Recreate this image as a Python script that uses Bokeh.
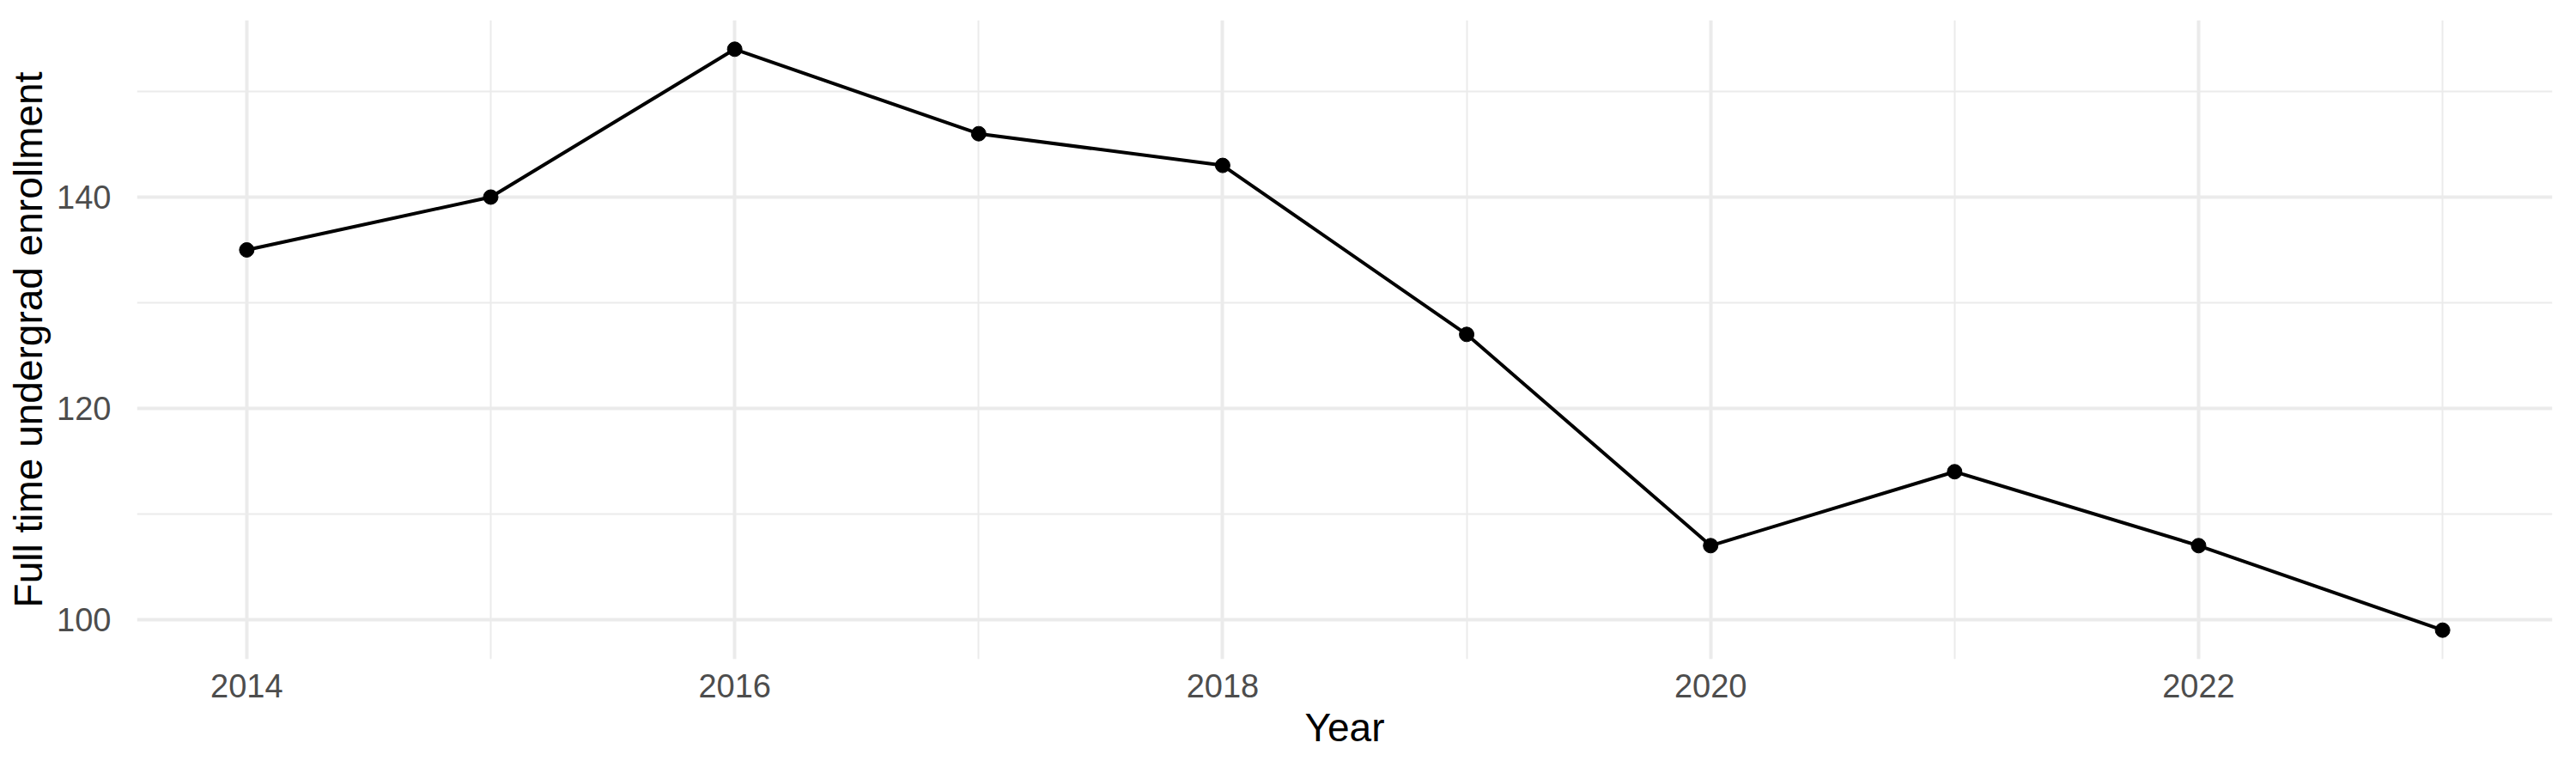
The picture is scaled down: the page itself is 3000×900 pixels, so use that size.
from bokeh.embed import file_html
from bokeh.models import FixedTicker, Range1d
from bokeh.plotting import figure
from bokeh.resources import INLINE

years = [2014, 2015, 2016, 2017, 2018, 2019, 2020, 2021, 2022, 2023]
enrollment = [135, 140, 154, 146, 143, 127, 107, 114, 107, 99]

x_major = [2014, 2016, 2018, 2020, 2022]
x_minor = [2015, 2017, 2019, 2021, 2023]
y_major = [100, 120, 140]
y_minor = [110, 130, 150]

FONT = 'Liberation Sans'
GRID = '#EBEBEB'

p = figure(width=2984, height=884, output_backend='svg', toolbar_location=None,
           x_range=Range1d(2013.55, 2023.45), y_range=Range1d(96.25, 156.75),
           min_border_left=159, min_border_right=12, min_border_top=23, min_border_bottom=117)

p.line(years, enrollment, line_width=4, color='black')
p.scatter(years, enrollment, size=17, color='black')

p.xaxis.ticker = FixedTicker(ticks=x_major, minor_ticks=x_minor)
p.yaxis.ticker = FixedTicker(ticks=y_major, minor_ticks=y_minor)

for g in (p.xgrid, p.ygrid):
    g.grid_line_color = GRID
    g.grid_line_width = 4
    g.minor_grid_line_color = GRID
    g.minor_grid_line_width = 2

for ax in (p.xaxis, p.yaxis):
    ax.axis_line_color = None
    ax.major_tick_line_color = None
    ax.minor_tick_line_color = None
    ax.major_label_text_font = FONT
    ax.major_label_text_font_size = '38px'
    ax.major_label_text_color = '#4D4D4D'
    ax.axis_label_text_font = FONT
    ax.axis_label_text_font_size = '46px'
    ax.axis_label_text_font_style = 'normal'
    ax.axis_label_text_color = 'black'

p.xaxis.axis_label = 'Year'
p.yaxis.axis_label = 'Full time undergrad enrollment'
p.xaxis.major_label_standoff = 11
p.yaxis.major_label_standoff = 24
p.xaxis.axis_label_standoff = 6
p.yaxis.axis_label_standoff = 4

p.outline_line_color = None
p.background_fill_color = 'white'
p.border_fill_color = 'white'

open("out.html", "w").write(file_html(p, INLINE))
